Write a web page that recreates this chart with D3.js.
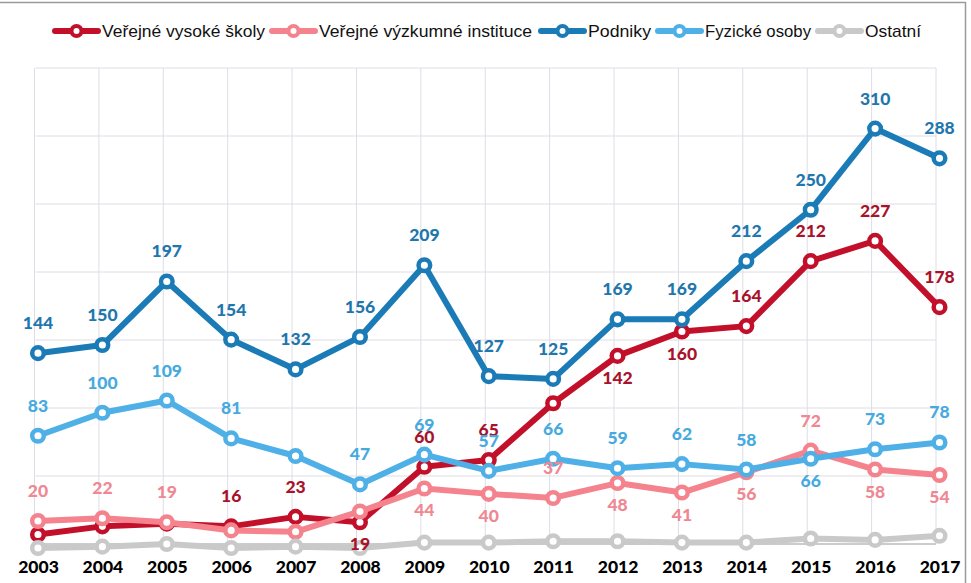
<!DOCTYPE html>
<html><head><meta charset="utf-8">
<script src="https://cdn.jsdelivr.net/npm/d3@7"></script>
<style>body{margin:0;background:#fff}svg{display:block}</style>
</head><body>
<svg id="c" width="971" height="583"></svg>
<script>
const years = ["2003","2004","2005","2006","2007","2008","2009","2010","2011","2012","2013","2014","2015","2016","2017"];
const seriesNames = ["Veřejné vysoké školy","Veřejné výzkumné instituce","Podniky","Fyzické osoby","Ostatní"];
const vsValues      = [10,16,18,16,23,19,60,65,107,142,160,164,212,227,178];
const vviValues     = [20,22,19,13,12,27,44,40,37,48,41,56,72,58,54];
const podnikyValues = [144,150,197,154,132,156,209,127,125,169,169,212,250,310,288];
const fyzValues     = [83,100,109,81,68,47,69,57,66,59,62,58,66,73,78];
const ostatniValues = [0,1,3,0,1,0,4,4,5,5,4,4,7,6,9];
// label placement: "a" above, "b" below, null = no label
const vsLabels      = [null,null,null,"a","a","b","a","a",null,"b","b","a","a","a","a"];
const vviLabels     = ["a","a","a",null,null,null,"b","b","a","b","b","b","a","b","b"];
const podnikyLabels = ["a","a","a","a","a","a","a","a","a","a","a","a","a","a","a"];
const fyzLabels     = ["a","a","a","a",null,"a","a","a","a","a","a","a","b","a","a"];
const ostatniLabels = [null,null,null,null,null,null,null,null,null,null,null,null,null,null,null];

const series = [
  {name: seriesNames[0], values: vsValues, labels: vsLabels, color:"#C2102B", text:"#A8132C"},
  {name: seriesNames[1], values: vviValues, labels: vviLabels, color:"#F4838E", text:"#EF8893"},
  {name: seriesNames[2], values: podnikyValues, labels: podnikyLabels, color:"#1B7BB6", text:"#1F77AD"},
  {name: seriesNames[3], values: fyzValues, labels: fyzLabels, color:"#4EB0E6", text:"#47AADF"},
  {name: seriesNames[4], values: ostatniValues, labels: ostatniLabels, color:"#C9C9C9", text:"#999"}
];

const svg = d3.select("#c");
const x = d3.scalePoint().domain(years).range([38, 939.5]);
const y = d3.scaleLinear().domain([0, 355]).range([548, 67.7]);

// frame
svg.append("line").attr("x1",0).attr("x2",966).attr("y1",2.5).attr("y2",2.5).attr("stroke","#9a9a9a").attr("stroke-width",1.5);
svg.append("line").attr("x1",965.5).attr("x2",965.5).attr("y1",2).attr("y2",583).attr("stroke","#9a9a9a").attr("stroke-width",1.5);

// grid
const gridY = d3.scaleLinear().domain([0,7]).range([544,68]);
const g = svg.append("g");
g.selectAll("line.h").data(d3.range(8)).join("line")
  .attr("x1", 35.5).attr("x2", 936).attr("y1", d=>gridY(d)).attr("y2", d=>gridY(d))
  .attr("stroke","#DEDDE6").attr("stroke-width",1);
g.selectAll("line.v").data(years).join("line")
  .attr("x1", d=>x(d)-3.5).attr("x2", d=>x(d)-3.5).attr("y1", 68).attr("y2", 544)
  .attr("stroke","#DEDDE6").attr("stroke-width",1);
svg.append("line").attr("x1",35.5).attr("x2",936).attr("y1",544).attr("y2",544).attr("stroke","#A8A8A8").attr("stroke-width",1);

// x axis labels
const xAxis = d3.axisBottom(x).tickSize(0).tickPadding(0);
const ax = svg.append("g").attr("transform","translate(0,561)").call(xAxis);
ax.select(".domain").remove();
ax.selectAll("text").attr("font-family","Lato").attr("font-weight","900").attr("font-size","17.5px").attr("fill","#000");

const line = d3.line().x((d,i)=>x(years[i])).y(d=>y(d));
series.forEach(s=>{
  const gs = svg.append("g");
  gs.append("path").datum(s.values).attr("d", line).attr("fill","none")
    .attr("stroke", s.color).attr("stroke-width",6).attr("stroke-linejoin","round");
  gs.selectAll("circle").data(s.values).join("circle")
    .attr("cx",(d,i)=>x(years[i])).attr("cy",d=>y(d)).attr("r",5.8)
    .attr("fill","#fff").attr("stroke",s.color).attr("stroke-width",4.5);
});
// labels on top
series.forEach(s=>{
  svg.append("g").selectAll("text").data(s.values.map((v,i)=>({v,i,p:s.labels[i]})).filter(d=>d.p))
    .join("text")
    .attr("x", d=>x(years[d.i]))
    .attr("y", d=>y(d.v) + (d.p==="a" ? -24 : 28))
    .attr("text-anchor","middle")
    .attr("font-family","Lato").attr("font-weight","900").attr("font-size","17.5px")
    .attr("fill", s.text)
    .text(d=>d.v);
});

// legend
const legX = [55, 272, 541, 658, 818];
const legW = [163, 213, 63, 106, 56];
const leg = svg.append("g");
series.forEach((s,i)=>{
  const lg = leg.append("g").attr("transform",`translate(${legX[i]},31)`);
  lg.append("line").attr("x1",0).attr("x2",43).attr("y1",0).attr("y2",0).attr("stroke",s.color).attr("stroke-width",6).attr("stroke-linecap","round");
  lg.append("circle").attr("cx",21.5).attr("cy",0).attr("r",5).attr("fill","#fff").attr("stroke",s.color).attr("stroke-width",4);
  lg.append("text").attr("x",47).attr("y",6).attr("font-family","Liberation Sans Narrow, Arial Narrow, sans-serif")
    .attr("font-size","17px").attr("fill","#111")
    .attr("textLength", legW[i]).attr("lengthAdjust","spacingAndGlyphs")
    .text(s.name);
});
</script>
</body></html>
